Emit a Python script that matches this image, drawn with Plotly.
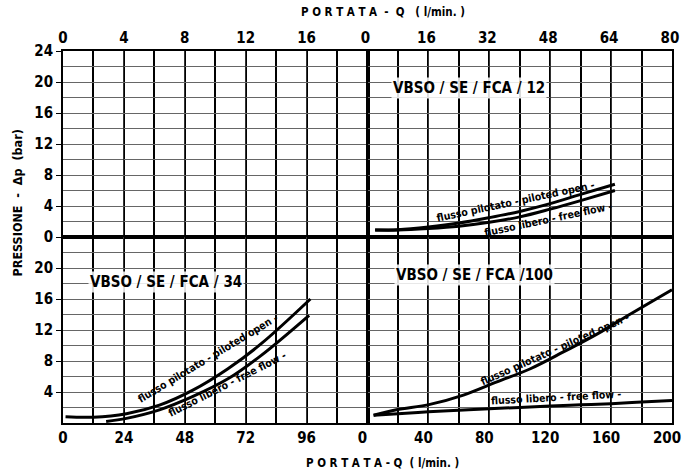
import plotly.graph_objects as go
from plotly.subplots import make_subplots

# ---- data ----
# VBSO/SE/FCA/12  (top-right, Q 0-80 l/min)
q12 = [2, 8, 16, 24, 32, 40, 48, 56, 65]
p12_piloted = [0.9, 0.95, 1.3, 1.8, 2.5, 3.3, 4.3, 5.5, 6.8]
p12_free = [0.9, 0.9, 1.1, 1.4, 1.9, 2.6, 3.6, 4.7, 6.0]

# VBSO/SE/FCA/34  (bottom-left, Q 0-120 l/min)
q34_piloted = [1, 12, 25, 38, 51, 65, 78, 97.5]
p34_piloted = [0.8, 0.75, 1.2, 2.3, 4.2, 7.0, 10.2, 16.0]
q34_free = [17, 25, 38, 51, 65, 78, 97]
p34_free = [0.2, 0.6, 1.7, 3.4, 5.7, 8.7, 13.9]

# VBSO/SE/FCA/100  (bottom-right, Q 0-200 l/min)
q100_piloted = [4, 19, 41, 63, 85, 107, 129, 151, 173, 200]
p100_piloted = [1.0, 1.7, 2.4, 3.6, 5.3, 7.0, 9.2, 11.5, 14.1, 17.2]
q100_free = [4, 20, 40, 60, 80, 100, 120, 140, 160, 180, 200]
p100_free = [1.0, 1.2, 1.45, 1.65, 1.85, 2.0, 2.2, 2.35, 2.5, 2.7, 2.9]

# axis ticks
top_left_ticks = [0, 4, 8, 12, 16]
top_right_ticks = [0, 16, 32, 48, 64, 80]
bot_left_ticks = [0, 24, 48, 72, 96]
bot_right_ticks = [0, 40, 80, 120, 160, 200]
top_y_ticks = [0, 4, 8, 12, 16, 20, 24]
bot_y_ticks = [4, 8, 12, 16, 20]

FONT = "DejaVu Sans Condensed, Liberation Sans Narrow, Arial Narrow, sans-serif"

fig = make_subplots(rows=2, cols=2, horizontal_spacing=0, vertical_spacing=0)

# empty panel (top-left) so its axes are drawn
fig.add_trace(go.Scatter(x=[None], y=[None], mode="lines", hoverinfo="skip"), row=1, col=1)

line = dict(color="black", width=3, shape="spline")
fig.add_trace(go.Scatter(x=q12, y=p12_piloted, mode="lines", line=line), row=1, col=2)
fig.add_trace(go.Scatter(x=q12, y=p12_free, mode="lines", line=line), row=1, col=2)
fig.add_trace(go.Scatter(x=q34_piloted, y=p34_piloted, mode="lines", line=line), row=2, col=1)
fig.add_trace(go.Scatter(x=q34_free, y=p34_free, mode="lines", line=line), row=2, col=1)
fig.add_trace(go.Scatter(x=q100_piloted, y=p100_piloted, mode="lines", line=line), row=2, col=2)
fig.add_trace(go.Scatter(x=q100_free, y=p100_free, mode="lines", line=line), row=2, col=2)

tickfont = dict(family=FONT, size=15, color="black", weight="bold")
hgrid = "#666666"

def xax(rng, ticks, minor, side, shift=0):
    return dict(range=rng, tickvals=ticks, side=side, showgrid=True, gridcolor="#333333", gridwidth=1.3,
                minor=dict(dtick=minor, tick0=0, showgrid=True, gridcolor="#000000", gridwidth=2),
                showline=True, linecolor="black", linewidth=1.8, mirror=True,
                ticks="", tickfont=tickfont, automargin=False, ticklabeloverflow="allow",
                ticklabelshift=shift, zeroline=False, fixedrange=True)

def yax(ticks, show):
    return dict(range=[0, 24], tickvals=ticks, showgrid=True, gridcolor=hgrid, gridwidth=1.4,
                minor=dict(dtick=2, tick0=0, showgrid=True, gridcolor=hgrid, gridwidth=1.4),
                showline=True, linecolor="black", linewidth=1.8, mirror=True,
                showticklabels=show, ticks="outside" if show else "", ticklen=5,
                tickcolor="black", tickfont=tickfont, zeroline=False, fixedrange=True,
                automargin=False)

fig.update_layout(
    xaxis=xax([0, 20], top_left_ticks, 2, "top"),
    xaxis2=xax([0, 80], top_right_ticks, 8, "top", -2),
    xaxis3=xax([0, 120], bot_left_ticks, 12, "bottom"),
    xaxis4=xax([0, 200], bot_right_ticks, 20, "bottom", -5),
    yaxis=yax(top_y_ticks, True),
    yaxis2=yax(top_y_ticks, False),
    yaxis3=yax(bot_y_ticks, True),
    yaxis4=yax(bot_y_ticks, False),
)

ann = []
def label(text, x, y, xr, yr, size=15):
    ann.append(dict(text=text, x=x, y=y, xref=xr, yref=yr, showarrow=False,
                    font=dict(family=FONT, size=size, color="black"), bgcolor="rgba(255,255,255,0.85)"))

label("<b>VBSO / SE / FCA / 12</b>", 26.6, 19.2, "x2", "y2")
label("<b>VBSO / SE / FCA / 34</b>", 40.7, 18.2, "x3", "y3")
label("<b>VBSO / SE / FCA /100</b>", 70.6, 19.1, "x4", "y4")

small = 10.5
def curve_label(text, x, y, xr, yr, angle):
    ann.append(dict(text=text, x=x, y=y, xref=xr, yref=yr, showarrow=False, textangle=angle,
                    font=dict(family=FONT, size=small, color="black")))

curve_label("<b>flusso pilotato - piloted open -</b>", 39, 4.6, "x2", "y2", -12)
curve_label("<b>flusso libero - free flow -</b>", 47.5, 2.3, "x2", "y2", -12)
curve_label("<b>flusso pilotato - piloted open -</b>", 57, 8.4, "x3", "y3", -31)
curve_label("<b>flusso libero - free flow -</b>", 64.5, 5.0, "x3", "y3", -27)
curve_label("<b>flusso pilotato - piloted open -</b>", 123, 9.6, "x4", "y4", -24)
curve_label("<b>flusso libero - free flow -</b>", 124, 3.3, "x4", "y4", -3)

title_font = dict(family=FONT, size=11.5, color="black")
ann.append(dict(text="<b>P O R T A T A  -  Q   ( l/min. )</b>", x=0.525, y=1, xref="paper", yref="paper",
                yanchor="middle", yshift=39, showarrow=False, font=title_font))
ann.append(dict(text="<b>P O R T A T A - Q  ( l/min. )</b>", x=0.525, y=0, xref="paper", yref="paper",
                yanchor="middle", yshift=-40, showarrow=False, font=title_font))
ann.append(dict(text="<b>PRESSIONE  -  Δp  (bar)</b>", x=0, y=0.59, xref="paper", yref="paper",
                xanchor="center", yanchor="middle", xshift=-45, textangle=-90, showarrow=False,
                font=dict(family=FONT, size=12.5, color="black")))

fig.update_layout(
    annotations=ann,
    width=682, height=474,
    margin=dict(l=63, r=10, t=51, b=51),
    paper_bgcolor="white", plot_bgcolor="white",
    showlegend=False,
)

fig.write_html("out.html", config={"displayModeBar": False},
               post_script="document.body.style.margin='0';document.body.style.overflow='hidden';")
